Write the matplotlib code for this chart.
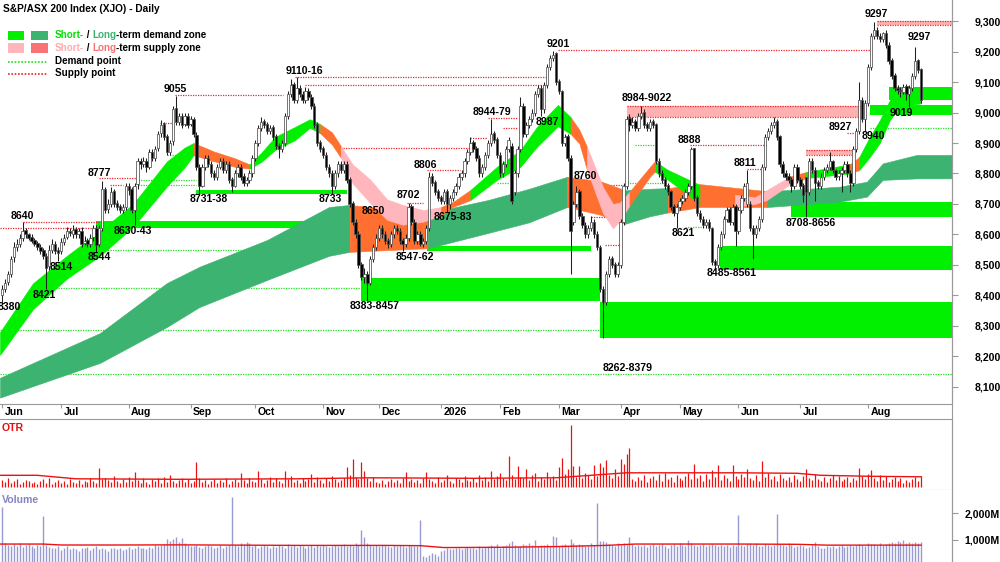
import matplotlib
matplotlib.use("Agg")
import matplotlib.pyplot as plt
import matplotlib.transforms as mtrans
from matplotlib.patches import Rectangle
from matplotlib.lines import Line2D
import numpy as np

plt.rcParams['font.family'] = ['Liberation Sans', 'DejaVu Sans']

# daily bars, Jun 2025 - Aug 2026 (bar index 0..312)
opens = [8400, 8420, 8445, 8470, 8525, 8560, 8570, 8590, 8615, 8600,
         8592, 8582, 8572, 8560, 8548, 8530, 8495, 8550, 8570, 8548,
         8545, 8575, 8592, 8612, 8600, 8618, 8600, 8612, 8572, 8582,
         8570, 8592, 8622, 8568, 8622, 8748, 8682, 8700, 8742, 8702,
         8692, 8680, 8690, 8760, 8748, 8680, 8765, 8842, 8830, 8842,
         8822, 8872, 8850, 8882, 8932, 8962, 8922, 8872, 8905, 9015,
         8970, 8990, 8962, 8990, 8962, 8980, 8925, 8820, 8760, 8820,
         8852, 8832, 8802, 8790, 8822, 8842, 8810, 8832, 8782, 8760,
         8800, 8822, 8792, 8770, 8780, 8800, 8850, 8900, 8950, 8972,
         8962, 8940, 8952, 8922, 8892, 8880, 8900, 8990, 9060, 9092,
         9040, 9082, 9062, 9040, 9072, 9052, 9022, 8962, 8902, 8882,
         8862, 8822, 8802, 8760, 8800, 8832, 8810, 8832, 8782, 8702,
         8642, 8600, 8502, 8462, 8472, 8440, 8520, 8560, 8590, 8622,
         8602, 8582, 8570, 8600, 8622, 8612, 8582, 8570, 8590, 8692,
         8642, 8580, 8602, 8570, 8580, 8620, 8792, 8772, 8742, 8722,
         8710, 8742, 8700, 8720, 8740, 8760, 8790, 8800, 8840, 8870,
         8902, 8882, 8852, 8800, 8820, 8860, 8900, 8932, 8912, 8862,
         8800, 8830, 8880, 8890, 8740, 8800, 8880, 9022, 8930, 8960,
         8980, 9000, 9060, 9082, 9010, 9090, 9150, 9180, 9195, 9102,
         9070, 8900, 8922, 8852, 8640, 8700, 8742, 8662, 8632, 8600,
         8620, 8642, 8602, 8560, 8420, 8380, 8470, 8522, 8502, 8470,
         8500, 8640, 8760, 8982, 8960, 8972, 8950, 8990, 9002, 8962,
         8950, 8972, 8962, 8842, 8802, 8782, 8762, 8742, 8692, 8670,
         8690, 8710, 8720, 8740, 8760, 8882, 8722, 8672, 8652, 8630,
         8642, 8622, 8512, 8500, 8560, 8600, 8650, 8682, 8640, 8692,
         8610, 8680, 8720, 8700, 8700, 8622, 8600, 8620, 8650, 8820,
         8920, 8940, 8960, 8972, 8922, 8832, 8802, 8792, 8782, 8760,
         8822, 8782, 8762, 8790, 8740, 8842, 8812, 8772, 8760, 8790,
         8810, 8820, 8842, 8812, 8792, 8800, 8810, 8832, 8802, 8770,
         8880, 8940, 9042, 8980, 9030, 9150, 9250, 9272, 9252, 9240,
         9262, 9222, 9172, 9122, 9082, 9075, 9068, 9086, 9060, 9080,
         9120, 9172, 9142]
highs = [8435, 8455, 8480, 8530, 8575, 8585, 8600, 8640, 8620, 8605,
         8600, 8590, 8580, 8568, 8555, 8540, 8565, 8585, 8580, 8560,
         8590, 8600, 8625, 8622, 8630, 8625, 8620, 8625, 8595, 8590,
         8600, 8630, 8630, 8630, 8777, 8755, 8715, 8755, 8750, 8712,
         8700, 8700, 8770, 8770, 8755, 8770, 8850, 8850, 8855, 8850,
         8880, 8880, 8890, 8940, 8975, 8970, 8930, 8910, 9020, 9055,
         9000, 9000, 9000, 9000, 8990, 8985, 8935, 8830, 8830, 8860,
         8860, 8840, 8810, 8830, 8850, 8850, 8840, 8840, 8790, 8810,
         8830, 8830, 8800, 8790, 8810, 8860, 8910, 8960, 8985, 8980,
         8970, 8960, 8960, 8930, 8900, 8910, 9000, 9070, 9110, 9100,
         9116, 9090, 9070, 9085, 9080, 9060, 9030, 8970, 8910, 8890,
         8870, 8830, 8810, 8810, 8840, 8840, 8840, 8840, 8790, 8710,
         8650, 8610, 8510, 8490, 8480, 8530, 8570, 8600, 8630, 8630,
         8610, 8590, 8610, 8630, 8630, 8620, 8590, 8600, 8702, 8700,
         8650, 8610, 8610, 8590, 8630, 8806, 8800, 8780, 8750, 8730,
         8750, 8750, 8730, 8750, 8770, 8800, 8810, 8850, 8880, 8920,
         8910, 8890, 8860, 8830, 8870, 8910, 8979, 8940, 8920, 8870,
         8840, 8890, 8920, 8900, 8810, 8890, 9050, 9030, 8970, 8990,
         9010, 9070, 9090, 9090, 9100, 9160, 9190, 9201, 9200, 9110,
         9075, 8930, 8930, 8860, 8710, 8760, 8750, 8670, 8640, 8630,
         8660, 8650, 8610, 8565, 8430, 8480, 8530, 8530, 8510, 8510,
         8650, 8770, 8990, 8995, 8985, 8980, 9000, 9022, 9010, 8970,
         8980, 8980, 8965, 8850, 8810, 8790, 8770, 8745, 8700, 8700,
         8720, 8730, 8750, 8770, 8888, 8885, 8730, 8680, 8660, 8650,
         8650, 8625, 8520, 8570, 8610, 8660, 8690, 8690, 8700, 8700,
         8690, 8730, 8770, 8811, 8710, 8630, 8630, 8660, 8830, 8930,
         8950, 8970, 8985, 8980, 8925, 8840, 8810, 8800, 8790, 8830,
         8830, 8790, 8770, 8790, 8850, 8850, 8820, 8780, 8800, 8820,
         8830, 8870, 8845, 8815, 8810, 8820, 8840, 8840, 8810, 8890,
         8950, 9100, 9050, 9040, 9160, 9260, 9297, 9280, 9260, 9265,
         9270, 9230, 9180, 9130, 9090, 9085, 9095, 9095, 9090, 9130,
         9215, 9175, 9145]
lows = [8380, 8410, 8435, 8460, 8510, 8545, 8560, 8580, 8590, 8582,
        8572, 8562, 8550, 8535, 8520, 8421, 8485, 8540, 8535, 8514,
        8535, 8565, 8585, 8595, 8590, 8590, 8590, 8560, 8565, 8560,
        8560, 8580, 8544, 8560, 8610, 8670, 8670, 8690, 8690, 8680,
        8670, 8670, 8680, 8730, 8670, 8630, 8750, 8815, 8820, 8805,
        8815, 8840, 8840, 8875, 8920, 8910, 8860, 8860, 8895, 8960,
        8960, 8950, 8955, 8950, 8955, 8920, 8810, 8731, 8755, 8810,
        8820, 8790, 8780, 8780, 8815, 8800, 8800, 8770, 8738, 8755,
        8790, 8780, 8760, 8760, 8770, 8790, 8840, 8890, 8940, 8950,
        8930, 8930, 8910, 8880, 8851, 8870, 8890, 8980, 9050, 9030,
        9030, 9050, 9030, 9030, 9040, 9010, 8950, 8890, 8870, 8850,
        8810, 8790, 8733, 8750, 8790, 8800, 8800, 8770, 8690, 8630,
        8590, 8490, 8450, 8440, 8383, 8435, 8510, 8550, 8580, 8590,
        8570, 8555, 8560, 8590, 8600, 8570, 8547, 8560, 8580, 8630,
        8570, 8570, 8562, 8560, 8570, 8610, 8760, 8730, 8710, 8700,
        8700, 8675, 8683, 8710, 8730, 8750, 8780, 8790, 8830, 8860,
        8870, 8840, 8790, 8790, 8810, 8850, 8890, 8900, 8850, 8790,
        8790, 8820, 8870, 8700, 8730, 8790, 8870, 8920, 8920, 8950,
        8970, 8990, 9050, 8987, 9000, 9080, 9140, 9170, 9090, 9060,
        8890, 8890, 8840, 8470, 8630, 8690, 8650, 8620, 8590, 8590,
        8610, 8590, 8550, 8410, 8262, 8370, 8460, 8490, 8460, 8460,
        8490, 8630, 8750, 8940, 8950, 8940, 8940, 8980, 8950, 8940,
        8940, 8950, 8830, 8790, 8770, 8750, 8730, 8680, 8660, 8621,
        8680, 8700, 8710, 8730, 8750, 8710, 8660, 8640, 8620, 8620,
        8610, 8500, 8485, 8490, 8550, 8590, 8640, 8630, 8630, 8561,
        8600, 8670, 8710, 8690, 8610, 8520, 8590, 8610, 8640, 8810,
        8910, 8930, 8950, 8910, 8820, 8790, 8780, 8770, 8740, 8750,
        8770, 8750, 8708, 8656, 8730, 8800, 8710, 8750, 8750, 8780,
        8800, 8810, 8800, 8780, 8780, 8740, 8800, 8790, 8740, 8760,
        8870, 8930, 8970, 8940, 9020, 9140, 9240, 9240, 9230, 9230,
        9210, 9160, 9110, 9070, 9060, 9050, 9060, 9040, 9019, 9070,
        9110, 9130, 9030]
closes = [8420, 8440, 8470, 8520, 8560, 8570, 8590, 8610, 8600, 8590,
          8580, 8570, 8560, 8545, 8530, 8490, 8550, 8570, 8545, 8540,
          8575, 8590, 8610, 8605, 8615, 8600, 8610, 8570, 8580, 8570,
          8590, 8620, 8565, 8620, 8750, 8680, 8700, 8740, 8700, 8690,
          8680, 8690, 8760, 8745, 8680, 8760, 8840, 8830, 8840, 8820,
          8870, 8850, 8880, 8930, 8960, 8920, 8870, 8900, 9010, 8970,
          8990, 8960, 8990, 8960, 8980, 8930, 8820, 8760, 8820, 8850,
          8830, 8800, 8790, 8820, 8840, 8810, 8830, 8780, 8760, 8800,
          8820, 8790, 8770, 8780, 8800, 8850, 8900, 8950, 8970, 8960,
          8940, 8950, 8920, 8890, 8880, 8900, 8990, 9060, 9090, 9040,
          9080, 9060, 9040, 9070, 9050, 9020, 8960, 8900, 8880, 8860,
          8820, 8800, 8760, 8800, 8830, 8810, 8830, 8780, 8700, 8640,
          8600, 8500, 8460, 8470, 8440, 8520, 8560, 8590, 8620, 8600,
          8580, 8570, 8600, 8620, 8610, 8580, 8570, 8590, 8690, 8640,
          8580, 8600, 8570, 8580, 8620, 8790, 8770, 8740, 8720, 8710,
          8740, 8700, 8720, 8740, 8760, 8790, 8800, 8840, 8870, 8900,
          8880, 8850, 8800, 8820, 8860, 8900, 8930, 8910, 8860, 8800,
          8830, 8880, 8910, 8710, 8800, 8880, 9020, 8930, 8960, 8980,
          9000, 9060, 9080, 9010, 9090, 9150, 9180, 9190, 9100, 9070,
          8900, 8920, 8850, 8610, 8700, 8740, 8660, 8630, 8600, 8620,
          8640, 8600, 8560, 8420, 8380, 8470, 8520, 8500, 8470, 8500,
          8640, 8760, 8980, 8960, 8970, 8950, 8990, 9000, 8960, 8950,
          8970, 8960, 8840, 8800, 8780, 8760, 8740, 8690, 8670, 8690,
          8710, 8720, 8740, 8760, 8880, 8720, 8670, 8650, 8630, 8640,
          8620, 8510, 8500, 8560, 8600, 8650, 8680, 8640, 8690, 8610,
          8680, 8720, 8760, 8770, 8620, 8600, 8620, 8650, 8820, 8920,
          8940, 8960, 8970, 8920, 8830, 8800, 8790, 8780, 8760, 8820,
          8780, 8760, 8730, 8740, 8840, 8810, 8770, 8760, 8790, 8810,
          8820, 8840, 8810, 8790, 8800, 8810, 8830, 8800, 8770, 8880,
          8940, 9040, 8980, 9030, 9150, 9250, 9270, 9250, 9240, 9260,
          9220, 9170, 9120, 9080, 9075, 9070, 9085, 9060, 9080, 9120,
          9170, 9140, 9040]

otr = [7, 5, 9, 4, 6, 8, 3, 5, 7, 6, 4, 5, 3, 6, 8, 4, 9, 3, 5, 7,
       4, 6, 3, 8, 5, 4, 7, 3, 6, 5, 9, 6, 4, 19, 8, 9, 7, 5, 11, 6,
       4, 8, 5, 10, 6, 15, 7, 4, 9, 5, 3, 8, 6, 9, 4, 10, 5, 12, 6, 4,
       7, 9, 5, 8, 4, 6, 25, 9, 5, 7, 3, 6, 8, 4, 7, 5, 9, 3, 6, 8,
       5, 14, 7, 4, 9, 6, 5, 16, 8, 4, 7, 10, 5, 9, 6, 4, 16, 8, 11, 5,
       7, 4, 9, 6, 8, 13, 5, 10, 7, 4, 9, 6, 11, 8, 5, 7, 9, 20, 12, 28,
       10, 8, 25, 16, 9, 6, 10, 5, 4, 7, 3, 6, 8, 5, 7, 4, 9, 15, 6, 8,
       5, 7, 4, 9, 15, 8, 6, 4, 10, 5, 7, 12, 6, 4, 9, 8, 5, 11, 7, 6,
       9, 5, 12, 7, 10, 6, 16, 8, 11, 14, 9, 7, 31, 12, 8, 21, 10, 9, 18, 7,
       12, 14, 6, 10, 8, 15, 9, 11, 7, 20, 29, 13, 18, 62, 21, 10, 21, 9, 14, 12,
       8, 22, 11, 24, 20, 27, 12, 9, 18, 11, 28, 23, 33, 39, 8, 6, 10, 7, 12, 5,
       9, 11, 7, 13, 6, 14, 8, 10, 5, 12, 9, 7, 11, 14, 8, 23, 9, 12, 6, 13,
       8, 17, 10, 22, 7, 12, 9, 6, 22, 11, 8, 13, 10, 18, 9, 7, 12, 6, 26, 10,
       14, 8, 11, 6, 13, 9, 7, 10, 5, 12, 8, 6, 11, 18, 9, 7, 13, 8, 6, 10,
       5, 9, 12, 7, 11, 6, 8, 10, 5, 9,
       7, 19, 11, 8, 13, 17, 9, 6, 12, 7,
       11, 5, 8, 10, 6, 9, 4, 7, 5, 8, 10, 6, 11]

volume = [2220, 880, 820, 760, 850, 790, 900, 740, 810, 870, 780, 720, 830, 760, 1890, 810, 750, 690, 720, 780,
          640, 700, 760, 680, 720, 650, 600, 710, 690, 740, 620, 700, 760, 680, 720, 650, 580, 690, 710, 660,
          700, 620, 680, 740, 650, 700, 760, 690, 720, 680, 740, 700, 800, 760, 820, 850, 1050, 980, 1040, 1100,
          920, 1080, 880, 830, 760, 790, 820, 750, 700, 780, 820, 760, 690, 740, 800, 720, 760, 810, 2590, 820,
          780, 900, 850, 930, 880, 760, 800, 720, 760, 820, 790, 700, 780, 740, 810, 760, 720, 850, 780, 820,
          750, 800, 770, 720, 780, 810, 740, 800, 760, 820, 780, 750, 790, 820, 760, 800, 850, 780, 820, 760,
          900, 820, 1370, 1100, 880, 800, 760, 820, 780, 800,
          820, 780, 750, 800, 760, 820, 790, 740, 800, 770, 780, 760, 1740, 420, 380, 450, 520, 480, 400, 600,
          640, 700, 680, 660, 720, 700, 680, 690, 740, 700, 720, 680, 760, 700, 740, 780, 800, 760, 840, 720,
          760, 820, 900, 980, 800, 760, 780, 860, 820, 880, 800, 1000, 760, 820, 800, 840, 760, 1150, 1100, 760,
          820, 860, 780, 1050, 900, 800, 860, 820, 760, 780, 900, 820, 2370, 960, 950, 920, 840, 800, 760, 880,
          820, 900, 800, 1100, 860, 780, 820, 760, 800, 740, 820, 860, 780, 800, 840, 760, 720, 800, 860, 780,
          900, 820, 760, 1000, 880, 820, 760, 800, 840, 780, 820, 860, 800, 760, 820, 780, 800, 740, 820, 760,
          1930, 800, 760, 840, 880, 820, 900, 780, 760, 840, 820, 780, 800, 1960, 860, 820, 760, 880, 800, 740,
          780, 820, 760, 700, 740, 800, 920, 760, 700, 720, 760, 740, 780, 720, 760, 800, 740, 780, 820, 760,
          800, 860, 820, 780, 900, 860, 840, 820, 880, 800, 860, 900, 920, 880, 960, 940, 1000, 900, 920, 880,
          940, 900, 920]

otr_ma_x = [-0.7, 12, 25, 60, 100, 125, 160, 188, 200, 212, 250, 270, 278, 295, 312]
otr_ma = [12, 12, 8.5, 8, 8.5, 9.5, 9, 9.5, 12, 14.5, 14.5, 14, 12, 11, 10.5]
vol_ma_x = [-0.7, 14, 20, 40, 60, 100, 130, 142, 150, 170, 190, 205, 215, 250, 270, 280, 312]
vol_ma = [850, 850, 815, 815, 820, 800, 800, 790, 720, 730, 760, 800, 850, 850, 840, 810, 810]

month_names = ['Jun', 'Jul', 'Aug', 'Sep', 'Oct', 'Nov', 'Dec', '2026',
               'Feb', 'Mar', 'Apr', 'May', 'Jun', 'Jul', 'Aug']
month_start = [0, 20, 43, 64, 86, 109, 128, 149, 169, 189, 210, 230, 250, 271, 294]

# short-term ribbon: d = demand, s = supply, t = turning (state of the stretch to the next sample)
st_x = [-0.7, 10.5, 22, 33.3, 44.5, 56, 62, 65, 72, 79, 84, 88, 92.7, 99.5, 104.5, 108,
        112, 115, 119, 125, 130.7, 136, 143, 149, 153, 159, 168, 176, 181.6, 188.7, 193,
        196, 198.6, 204, 207.4, 209.8, 213, 220, 221.6, 226, 237, 248.8, 255.6, 259.7,
        267.5, 273, 287.8, 291, 294.6, 298, 301.4, 304.8, 312]
st_top = [8280, 8440, 8530, 8612, 8700, 8840, 8885, 8900, 8872, 8850, 8830, 8868, 8920, 8953, 8978, 8962,
          8935, 8890, 8830, 8780, 8715, 8697, 8680, 8690, 8706, 8746, 8822, 8877, 8953, 9025, 8985,
          8943, 8887, 8756, 8700, 8705, 8740, 8822, 8840, 8812, 8762, 8730, 8722, 8746,
          8790, 8805, 8830, 8854, 8920, 8975, 9041, 9074, 9085]
st_bot = [8205, 8355, 8455, 8530, 8625, 8758, 8820, 8860, 8840, 8822, 8816, 8838, 8877, 8910, 8950, 8932,
          8895, 8852, 8768, 8703, 8648, 8632, 8642, 8662, 8690, 8713, 8779, 8822, 8888, 8955, 8930,
          8898, 8811, 8670, 8620, 8645, 8695, 8790, 8806, 8780, 8700, 8690, 8700, 8713,
          8765, 8785, 8800, 8811, 8854, 8900, 8975, 9019, 9030]
st_state = "dddddddtttdddddttssssssttdddddttssssttddtssstdtdddddddd"

# long-term ribbon
lt_x = [-0.7, 33.3, 56, 67, 90, 111, 118, 144.6, 165, 179, 191.8, 203, 211.5, 220, 226, 237,
        259.7, 271, 284.5, 293.6, 299, 310.6, 322.5]
lt_top = [8130, 8277, 8441, 8494, 8582, 8690, 8697, 8670, 8713, 8750, 8789, 8775, 8745, 8750, 8752, 8765,
          8742, 8748, 8757, 8773, 8833, 8861, 8861]
lt_bot = [8065, 8179, 8297, 8362, 8451, 8530, 8543, 8555, 8605, 8640, 8690, 8665, 8635, 8660, 8672, 8690,
          8690, 8698, 8708, 8724, 8779, 8784, 8784]
lt_state = "ddddddsdddssddssddddddd"

# zones: (start bar, end bar or None = right edge, low, high)
demand_zones = [(32, 112, 8622, 8643), (66, 117, 8733, 8745), (122, 203, 8383, 8457),
                (144.3, 200, 8547, 8562), (203, None, 8262, 8379), (243.7, None, 8485, 8561),
                (268, None, 8656, 8708), (294.6, None, 8992, 9025), (301, None, 9040, 9085)]
supply_zones = [(212, 291.5, 8984, 9022), (273, 289, 8861, 8877), (297, None, 9287, 9300)]

# dotted levels: (price, start bar, end bar or None)
demand_points = [(8287, -0.7, 203), (8143, -0.7, None), (8424, 14, 122), (8549, 31.6, 121.5),
                 (8861, 56, 66), (8780, 46, 66), (8762, 46, 66), (8768, 168, 172), (8720, 168, 173.5),
                 (8893, 215, 221.6), (8770, 212, 225), (8626, 232, 238.6), (8949, 294.6, None)]
supply_points = [(8620, -0.7, 32), (8642, 7, 33), (8784, 33, 46), (8762, 36.7, 41), (8966, 53.6, 57.7),
                 (9057, 58.7, 95.4), (9116, 99.5, 185), (9090, 103, 185), (8883, 114, 159),
                 (8917, 159, 164.6), (8982, 165, 174.8), (8950, 170, 174.8), (8654, 121.5, 136),
                 (8703, 137.5, 143), (8811, 144.3, 155.5), (9205, 188.7, 294.6), (8762, 194, 212),
                 (8658, 200, 210.4), (8566, 204.7, 209.8), (8893, 233.5, 259.7), (8815, 252.9, 259),
                 (8933, 287, 289.5)]

labels = [('8380', 2.4, 8362), ('8640', 6.8, 8661), ('8421', 14.3, 8402), ('8514', 20, 8493),
          ('8544', 32.9, 8526), ('8777', 32.9, 8802), ('8630-43', 44.5, 8611), ('9055', 58.7, 9077),
          ('8731-38', 70.3, 8716), ('9110-16', 102.5, 9136), ('8733', 111.3, 8716),
          ('8650', 126, 8677), ('8383-8457', 126.6, 8366), ('8702', 137.8, 8730),
          ('8547-62', 140.2, 8526), ('8806', 143.6, 8828), ('8675-83', 153.1, 8657),
          ('8944-79', 166.3, 9002), ('8987', 185.3, 8969), ('9201', 188.7, 9225),
          ('8760', 197.9, 8792), ('8262-8379', 212.5, 8162), ('8984-9022', 219, 9048),
          ('8888', 233.5, 8910), ('8621', 231.2, 8605), ('8485-8561', 247.8, 8474),
          ('8811', 252.2, 8834), ('8708-8656', 274.6, 8638), ('8927', 284.5, 8952),
          ('8940', 295.7, 8923), ('9297', 296.7, 9323), ('9297', 311.3, 9248), ('9019', 305.2, 8998)]

# ---- styling ----
GREEN = '#00f000'
DKGREEN = '#3cb371'
ORANGE = '#ff7030'
PINK = '#ffb6bc'
SALMON = '#f87474'
ZPINK = '#ffb0b0'
RED_DOT = '#e8282d'
GRN_DOT = '#22dd22'
GRAY = '#9a9a9a'
FS = 7.6
LFS = 7.1

X0, X1 = -0.7, 322.5


def fpx(x, y):
    return x / 1000, 1 - y / 562


fig = plt.figure(figsize=(10, 5.62), dpi=100)
ax = fig.add_axes([0, 1 - 404 / 562, 0.952, 404 / 562])
ax_otr = fig.add_axes([0, 72 / 562, 0.952, 71 / 562])
ax_vol = fig.add_axes([0, 0, 0.952, 72 / 562])

o = np.array(opens, float)
h = np.array(highs, float)
l = np.array(lows, float)
c = np.array(closes, float)
h = np.maximum(h, np.maximum(o, c))
l = np.minimum(l, np.minimum(o, c))
idx = np.arange(len(c))


def ribbon(xs, top, bot, state, colors, z):
    xs, top, bot = np.asarray(xs), np.asarray(top), np.asarray(bot)
    a = 0
    for k in range(1, len(xs)):
        if k == len(xs) - 1 or state[k] != state[a]:
            col = colors[state[a]]
            ax.fill_between(xs[a:k + 1], bot[a:k + 1], top[a:k + 1], facecolor=col,
                            edgecolor=col, lw=0.4, zorder=z)
            a = k


# zones
for s, e, lo, hi in demand_zones:
    e = X1 if e is None else e
    ax.add_patch(Rectangle((s, lo), e - s, hi - lo, facecolor=GREEN, lw=0, zorder=1))
for s, e, lo, hi in supply_zones:
    e = X1 if e is None else e
    ax.add_patch(Rectangle((s, lo), e - s, hi - lo, facecolor=ZPINK, lw=0, zorder=1))
    for p in (lo, hi):
        ax.plot([s, e], [p, p], color=RED_DOT, lw=0.9, ls=(0, (1, 1)), zorder=2)

for p, s, e in demand_points:
    e = X1 if e is None else e
    ax.plot([s, e], [p, p], color=GRN_DOT, lw=0.9, ls=(0, (1, 1)), zorder=2)
for p, s, e in supply_points:
    e = X1 if e is None else e
    ax.plot([s, e], [p, p], color=RED_DOT, lw=0.9, ls=(0, (1, 1)), zorder=2)

ribbon(lt_x, lt_top, lt_bot, lt_state, {'d': DKGREEN, 's': ORANGE}, 2.5)
ribbon(st_x, st_top, st_bot, st_state, {'d': GREEN, 's': PINK, 't': ORANGE}, 3)

# candles
up = c >= o
ax.vlines(idx, l, h, color='#202020', lw=0.75, zorder=5)
body_lo = np.minimum(o, c)
body_h = np.maximum(np.abs(c - o), 3)
ax.bar(idx, body_h, bottom=body_lo, width=0.82,
       color=np.where(up, 'white', 'black'), edgecolor='#505050', lw=0.55, zorder=6)

for txt, x, y in labels:
    ax.text(x, y, txt, ha='center', va='center', fontsize=FS, fontweight='bold', zorder=8)

ax.set_xlim(X0, X1)
ax.set_ylim(8044, 9369)
ax.yaxis.tick_right()
ax.set_yticks(range(8100, 9301, 100))
ax.set_yticklabels([f'{v:,}' for v in range(8100, 9301, 100)], fontsize=FS, fontweight='bold')
ax.tick_params(axis='y', direction='out', length=4, pad=12, color=GRAY)
ax.set_xticks(month_start)
ax.tick_params(axis='x', direction='out', length=3, color=GRAY, labelbottom=False)
for sp in ('left', 'top'):
    ax.spines[sp].set_visible(False)
for sp in ('right', 'bottom'):
    ax.spines[sp].set_color(GRAY)

trans = mtrans.blended_transform_factory(ax.transData, fig.transFigure)
for name, m in zip(month_names, month_start):
    ax.text(m + 0.8, 1 - 412 / 562, name, transform=trans, ha='left', va='center',
            fontsize=FS, fontweight='bold')

# OTR panel
ax_otr.vlines(idx, 0, otr, color='#ee1111', lw=0.9)
ax_otr.plot(otr_ma_x, otr_ma, color='#ee1111', lw=1.0)
ax_otr.set_xlim(X0, X1)
ax_otr.set_ylim(-2.7, 68.3)
ax_otr.set_xticks([])
ax_otr.set_yticks([])
ax_otr.spines['left'].set_visible(False)
for sp in ('top', 'bottom', 'right'):
    ax_otr.spines[sp].set_color(GRAY)

# volume panel
ax_vol.vlines(idx, 0, volume, color='#9a9ad2', lw=1.0)
ax_vol.plot(vol_ma_x, vol_ma, color='#ee1111', lw=1.0)
ax_vol.set_xlim(X0, X1)
ax_vol.set_ylim(185, 2852)
ax_vol.set_xticks([])
ax_vol.yaxis.tick_right()
ax_vol.set_yticks([1000, 2000])
ax_vol.set_yticklabels(['1,000M', '2,000M'], fontsize=FS, fontweight='bold')
ax_vol.tick_params(axis='y', direction='out', length=4, pad=5, color=GRAY)
for sp in ('left', 'top', 'bottom'):
    ax_vol.spines[sp].set_visible(False)
ax_vol.spines['right'].set_color(GRAY)

fig.add_artist(Line2D([0.952, 0.952], [0, 1], transform=fig.transFigure, color=GRAY, lw=0.8))

fig.text(*fpx(2, 428), 'OTR', color='#e01010', fontsize=FS, fontweight='bold', va='center')
fig.text(*fpx(2, 500), 'Volume', color='#8585c5', fontsize=FS, fontweight='bold', va='center')

# title and legend
fig.text(*fpx(3, 9), 'S&P/ASX 200 Index (XJO) - Daily', fontsize=7.3, fontweight='bold', va='center')


def box(x0, y0, x1, y1, col):
    fx0, fy0 = fpx(x0, y1)
    fig.add_artist(Rectangle((fx0, fy0), (x1 - x0) / 1000, (y1 - y0) / 562,
                             transform=fig.transFigure, facecolor=col, lw=0))


def multi_text(x, y, parts):
    t = fig.text(*fpx(x, y), parts[0][0], color=parts[0][1], fontsize=LFS,
                 fontweight='bold', va='center')
    for s, col in parts[1:]:
        t = ax.annotate(s, xy=(1, 0), xycoords=t, va='bottom', ha='left', color=col,
                        fontsize=LFS, fontweight='bold', annotation_clip=False)


box(8, 31, 24, 40, GREEN)
box(31, 31, 48, 40, DKGREEN)
box(8, 43, 24, 53, PINK)
box(31, 43, 48, 53, SALMON)
multi_text(55, 35.5, [('Short-', '#00e000'), (' / ', 'black'), ('Long', DKGREEN),
                      ('-term demand zone', 'black')])
multi_text(55, 48, [('Short-', '#ffaab0'), (' / ', 'black'), ('Long', SALMON),
                    ('-term supply zone', 'black')])
fig.add_artist(Line2D([0.008, 0.048], [1 - 62 / 562] * 2, transform=fig.transFigure,
                      color=GRN_DOT, lw=1.2, ls=(0, (1, 1))))
fig.add_artist(Line2D([0.008, 0.048], [1 - 74 / 562] * 2, transform=fig.transFigure,
                      color=RED_DOT, lw=1.2, ls=(0, (1, 1))))
fig.text(*fpx(55, 61.5), 'Demand point', fontsize=LFS, fontweight='bold', va='center')
fig.text(*fpx(55, 73.5), 'Supply point', fontsize=LFS, fontweight='bold', va='center')

fig.savefig('out.png', dpi=100)
